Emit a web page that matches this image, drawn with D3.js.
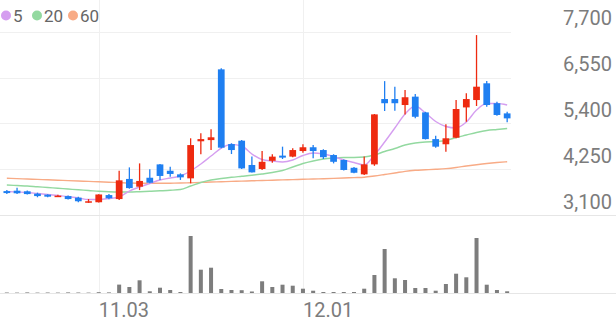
<!DOCTYPE html>
<html>
<head>
<meta charset="utf-8">
<script src="https://cdn.jsdelivr.net/npm/d3@7"></script>
<style>
body { margin: 0; background: #fff; }
svg { display: block; font-family: Roboto, "Noto Sans", sans-serif; }
</style>
</head>
<body>
<svg id="chart"></svg>
<script>
// daily candles, 10.21 ~ 12.30
var dates = ["10.21","10.22","10.23","10.24","10.27","10.28","10.29","10.30","10.31",
	"11.03","11.04","11.05","11.06","11.07","11.10","11.11","11.12","11.13","11.14",
	"11.17","11.18","11.19","11.20","11.21","11.24","11.25","11.26","11.27","11.28",
	"12.01","12.02","12.03","12.04","12.05","12.08","12.09","12.10","12.11","12.12",
	"12.15","12.16","12.17","12.18","12.19","12.22","12.23","12.24","12.26","12.29","12.30"];
var open  = [3700,3710,3695,3635,3610,3560,3575,3535,3410,3420,3600,3500,4005,3810,4035,4370,4210,4120,4020,4950,4980,6755,4880,4965,4355,4255,4460,4590,4565,4705,4800,4730,4605,4480,4285,4120,4370,6010,6010,5860,6070,5675,5005,4875,5040,5800,5985,6405,5905,5650];
var high  = [3730,3785,3715,3660,3620,3610,3590,3560,3500,3620,3625,4210,4295,4395,4245,4380,4310,4145,5025,5150,5250,6780,4900,4980,4565,4705,4625,4815,4775,4875,4855,4750,4625,4490,4305,4565,5635,6460,6320,6235,6135,5690,5090,5375,5985,6155,7615,6460,5945,5690];
var low   = [3625,3625,3615,3545,3545,3550,3490,3420,3405,3415,3495,3475,3760,3725,3895,3980,4060,3980,3895,4625,4730,4775,4630,4255,4165,4230,4410,4505,4550,4665,4525,4505,4395,4215,4145,4105,4335,5710,5715,5625,5525,4995,4790,4690,5025,5440,5835,5815,5590,5425];
var close = [3650,3645,3625,3575,3560,3585,3500,3445,3445,3615,3520,3970,3775,3955,3910,4080,4130,4045,4855,5005,5050,4790,4730,4270,4170,4435,4565,4540,4730,4800,4705,4550,4435,4230,4160,4370,5625,5905,5905,6055,5565,5005,4815,5025,5760,6010,6320,5860,5610,5525];
var volume = [5,4,6,4,5,4,6,5,4,8,6,84,60,127,17,53,30,10,570,233,253,40,30,28,15,117,60,83,73,43,23,10,10,10,10,43,180,440,147,130,50,50,23,90,193,157,550,83,30,17];

var ma5  = [3690,3677,3665,3639,3614,3589,3564,3527,3489,3489,3514,3552,3702,3803,3890,3978,4028,4079,4204,4380,4580,4781,4869,4831,4630,4492,4455,4430,4480,4593,4656,4630,4568,4480,4417,4355,4605,4932,5283,5634,5835,5659,5446,5320,5283,5433,5734,5898,5898,5860];
var ma20 = [3853,3840,3828,3808,3790,3770,3752,3732,3715,3695,3682,3677,3677,3685,3695,3707,3720,3740,3828,3915,3978,4016,4046,4071,4096,4129,4166,4217,4304,4392,4455,4505,4530,4543,4543,4555,4605,4693,4768,4856,4906,4932,4944,4969,5044,5107,5170,5220,5245,5270];
var ma60 = [4021,4013,4003,3993,3983,3973,3963,3953,3943,3933,3923,3913,3903,3898,3895,3895,3898,3903,3910,3918,3928,3935,3943,3951,3958,3966,3973,3981,3988,3996,4003,4011,4018,4028,4038,4048,4079,4116,4154,4196,4222,4234,4247,4264,4292,4329,4362,4392,4417,4437];

var priceTicks = [3100, 4250, 5400, 6550, 7700];
var dateTicks = ["11.03", "12.01"];
var maNames = ["5", "20", "60"];
var maColors = ["#d59ef0", "#93d9a0", "#f8ab86"];
var upColor = "#ee2a10", downColor = "#1f7ff1", volColor = "#7d7d7d";

var width = 616, height = 321;
var plotRight = 511, priceBottom = 215, volBottom = 293;

var svg = d3.select("#chart").attr("width", width).attr("height", height);

var x = d3.scaleBand().domain(dates).range([0, 514]).padding(0.34);
var y = d3.scaleLinear().domain([3100, 7700]).range([priceBottom, 31.7]);
var yVol = d3.scaleLinear().domain([0, 780]).range([volBottom, priceBottom]);

function cx(d) { return x(d) + x.bandwidth() / 2; }

// grid
svg.append("g").selectAll("line").data(priceTicks.slice(1)).enter().append("line")
	.attr("x1", 0).attr("x2", plotRight)
	.attr("y1", function(d) { return Math.round(y(d)) + 0.5; })
	.attr("y2", function(d) { return Math.round(y(d)) + 0.5; })
	.attr("stroke", "#f0f0f0");
svg.append("g").selectAll("line").data(dateTicks).enter().append("line")
	.attr("x1", function(d) { return Math.round(cx(d)) + 0.5; })
	.attr("x2", function(d) { return Math.round(cx(d)) + 0.5; })
	.attr("y1", 0).attr("y2", volBottom)
	.attr("stroke", "#f0f0f0");
svg.append("line").attr("x1", 0).attr("x2", width)
	.attr("y1", priceBottom + 0.5).attr("y2", priceBottom + 0.5).attr("stroke", "#e6e6e6");
svg.append("line").attr("x1", 0).attr("x2", width)
	.attr("y1", volBottom + 0.5).attr("y2", volBottom + 0.5).attr("stroke", "#e6e6e6");

// moving averages
var maList = [ma5, ma20, ma60];
var line = d3.line()
	.x(function(d, i) { return cx(dates[i]); })
	.y(function(d) { return y(d); })
	.curve(d3.curveMonotoneX);
for (var m = 2; m >= 0; m--) {
	svg.append("path").datum(maList[m])
		.attr("fill", "none")
		.attr("stroke", maColors[m])
		.attr("stroke-width", 1.4)
		.attr("d", line);
}

// candles
var candles = svg.append("g").selectAll("g").data(dates).enter().append("g");
function col(d, i) { return close[i] >= open[i] ? upColor : downColor; }
candles.append("line")
	.attr("x1", function(d) { return cx(d); })
	.attr("x2", function(d) { return cx(d); })
	.attr("y1", function(d, i) { return y(high[i]); })
	.attr("y2", function(d, i) { return y(low[i]); })
	.attr("stroke", col)
	.attr("stroke-width", 1.3);
candles.append("rect")
	.attr("x", function(d) { return x(d); })
	.attr("width", x.bandwidth())
	.attr("y", function(d, i) { return y(Math.max(open[i], close[i])); })
	.attr("height", function(d, i) { return Math.max(1.5, Math.abs(y(open[i]) - y(close[i]))); })
	.attr("fill", col);

// volume
svg.append("g").selectAll("rect").data(dates).enter().append("rect")
	.attr("x", function(d) { return cx(d) - 2; })
	.attr("width", 4)
	.attr("y", function(d, i) { return yVol(volume[i]); })
	.attr("height", function(d, i) { return volBottom - yVol(volume[i]); })
	.attr("fill", volColor);

// price labels
var yAxis = svg.append("g").attr("transform", "translate(612,0)")
	.call(d3.axisLeft(y).tickValues(priceTicks).tickSize(0).tickPadding(0).tickFormat(d3.format(",")));
yAxis.select(".domain").remove();
yAxis.selectAll("text")
	.attr("dy", "-7px")
	.attr("fill", "#7c7c7c")
	.style("font-size", "20px")
	.style("font-family", "Roboto, sans-serif");

// date labels
var xAxis = svg.append("g").attr("transform", "translate(0," + volBottom + ")")
	.call(d3.axisBottom(x).tickValues(dateTicks).tickSize(0).tickPadding(0));
xAxis.select(".domain").remove();
xAxis.selectAll("text")
	.attr("text-anchor", "start")
	.attr("dx", "0px")
	.attr("dy", "0")
	.attr("y", 23.5)
	.attr("fill", "#7c7c7c")
	.style("font-size", "20px")
	.style("font-family", "Roboto, sans-serif");

// legend
var lx = [6, 37, 73];
var legend = svg.append("g").selectAll("g").data(maNames).enter().append("g");
legend.append("circle")
	.attr("cx", function(d, i) { return lx[i]; })
	.attr("cy", 15.5).attr("r", 5)
	.attr("fill", function(d, i) { return maColors[i]; });
legend.append("text")
	.attr("x", function(d, i) { return lx[i] + 7; })
	.attr("y", 21.5)
	.attr("fill", "#666")
	.style("font-size", "17px")
	.text(function(d) { return d; });
</script>
</body>
</html>
